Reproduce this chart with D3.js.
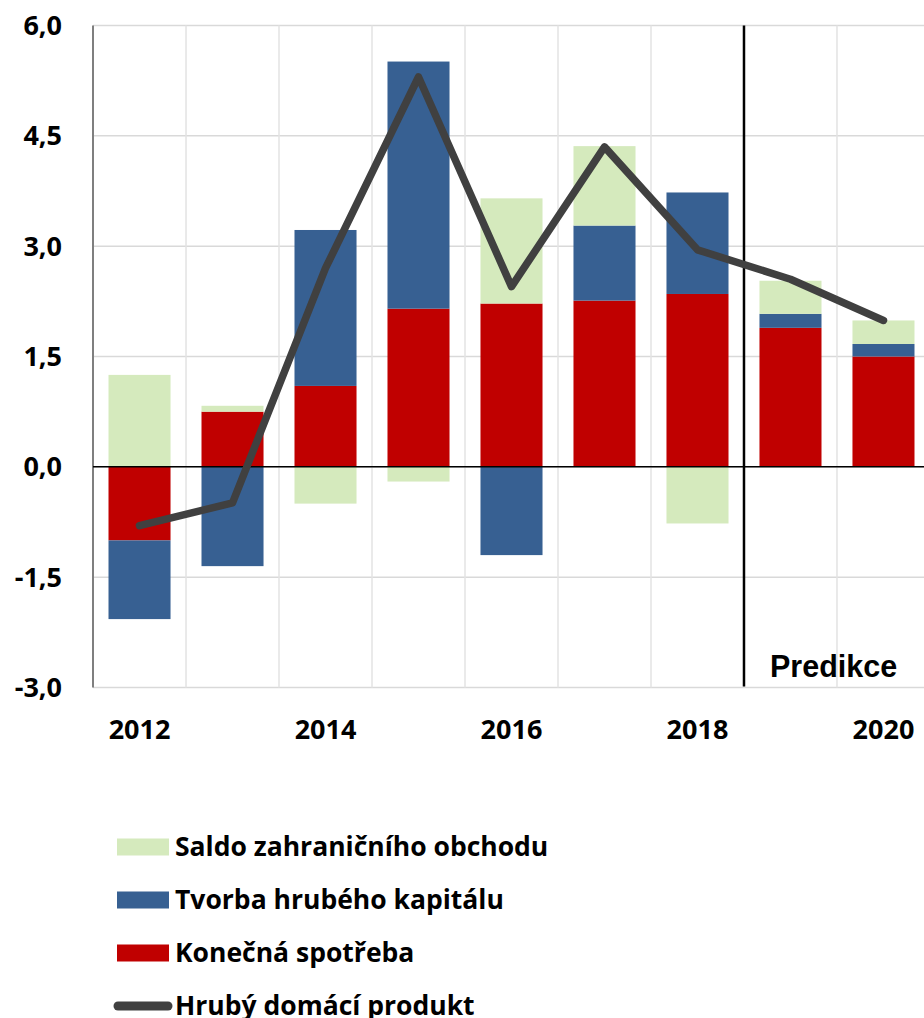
<!DOCTYPE html>
<html>
<head>
<meta charset="utf-8">
<script src="https://cdn.jsdelivr.net/npm/d3@7"></script>
<style>
  body { margin: 0; background: #fff; }
  svg { display: block; }
</style>
</head>
<body>
<svg></svg>
<script>
// roky a slozky rustu HDP (p.b.)
var years = ["2012","2013","2014","2015","2016","2017","2018","2019","2020"];
var spotreba = [-1.0, 0.75, 1.1, 2.15, 2.22, 2.26, 2.35, 1.89, 1.5];
var kapital = [-1.07, -1.35, 2.12, 3.36, -1.2, 1.02, 1.38, 0.19, 0.17];
var saldo = [1.25, 0.08, -0.5, -0.2, 1.43, 1.08, -0.77, 0.45, 0.32];
var hdp = [-0.8, -0.49, 2.7, 5.3, 2.45, 4.35, 2.95, 2.55, 1.99];
var yTicks = [-3, -1.5, 0, 1.5, 3, 4.5, 6];
var xLabels = ["2012","2014","2016","2018","2020"];

var seriesNames = ["Saldo zahraničního obchodu","Tvorba hrubého kapitálu","Konečná spotřeba","Hrubý domácí produkt"];
var colors = { spotreba: "#c00000", kapital: "#376092", saldo: "#d5eabd", hdp: "#404040" };

var scren = { width: 924, height: 1018 };
var svg = d3.select("svg")
            .attr("width", scren.width)
            .attr("height", scren.height);

var margins = { top: 25.5, left: 93, bottom: 687.5 };

var xScale = d3.scaleBand()
               .domain(years)
               .range([margins.left, margins.left + 93 * years.length])
               .paddingInner(0.333)
               .paddingOuter(0.1667);
var yScale = d3.scaleLinear()
               .domain([-3, 6])
               .range([margins.bottom, margins.top]);

var loc = d3.formatLocale({ decimal: ",", thousands: " ", grouping: [3], currency: ["", ""], minus: "-" });
var fmt = loc.format(".1f");

var tickFont = "'Open Sans', 'DejaVu Sans', sans-serif";

// mrizka
svg.append("g").selectAll("line.h")
   .data(yTicks)
   .enter().append("line")
   .attr("x1", margins.left).attr("x2", scren.width)
   .attr("y1", function(d){ return yScale(d); })
   .attr("y2", function(d){ return yScale(d); })
   .attr("stroke", "#d9d9d9").attr("stroke-width", 1.5);

svg.append("g").selectAll("line.v")
   .data(years.slice(1))
   .enter().append("line")
   .attr("x1", function(d){ return xScale(d) - xScale.step() * xScale.paddingInner() / 2; })
   .attr("x2", function(d){ return xScale(d) - xScale.step() * xScale.paddingInner() / 2; })
   .attr("y1", margins.top).attr("y2", margins.bottom)
   .attr("stroke", "#e3e3e3").attr("stroke-width", 1.5);

// sloupce
var table = years.map(function(y, i){
  return { year: y, spotreba: spotreba[i], kapital: kapital[i], saldo: saldo[i] };
});
var stack = d3.stack()
              .keys(["spotreba","kapital","saldo"])
              .offset(d3.stackOffsetDiverging);
var layers = stack(table);

svg.append("g").selectAll("g")
   .data(layers)
   .enter().append("g")
   .attr("fill", function(d){ return colors[d.key]; })
   .selectAll("rect")
   .data(function(d){ return d; })
   .enter().append("rect")
   .attr("x", function(d){ return xScale(d.data.year); })
   .attr("width", xScale.bandwidth())
   .attr("y", function(d){ return yScale(Math.max(d[0], d[1])); })
   .attr("height", function(d){ return Math.abs(yScale(d[0]) - yScale(d[1])); });

// osa y
svg.append("line")
   .attr("x1", margins.left).attr("x2", margins.left)
   .attr("y1", margins.top).attr("y2", margins.bottom)
   .attr("stroke", "#7f7f7f").attr("stroke-width", 2);

// nulova linie
svg.append("line")
   .attr("x1", margins.left).attr("x2", scren.width)
   .attr("y1", yScale(0)).attr("y2", yScale(0))
   .attr("stroke", "#000").attr("stroke-width", 1.5);

// predikce
var predX = xScale("2019") - xScale.step() * xScale.paddingInner() / 2;
svg.append("line")
   .attr("x1", predX).attr("x2", predX)
   .attr("y1", margins.top).attr("y2", margins.bottom - 1)
   .attr("stroke", "#000").attr("stroke-width", 2.5);
svg.append("text")
   .attr("x", 770).attr("y", 676.5)
   .attr("font-family", "'Liberation Sans', Arial, sans-serif")
   .attr("font-weight", "bold").attr("font-size", 30.5)
   .attr("fill", "#000")
   .text("Predikce");

// HDP
var line = d3.line()
             .x(function(d, i){ return xScale(years[i]) + xScale.bandwidth() / 2; })
             .y(function(d){ return yScale(d); });
svg.append("path")
   .datum(hdp)
   .attr("d", line)
   .attr("fill", "none")
   .attr("stroke", colors.hdp)
   .attr("stroke-width", 7.5)
   .attr("stroke-linecap", "round")
   .attr("stroke-linejoin", "round");

// popisky os
svg.append("g").selectAll("text")
   .data(yTicks)
   .enter().append("text")
   .attr("x", 62)
   .attr("y", function(d){ return yScale(d) + 9.5; })
   .attr("text-anchor", "end")
   .attr("font-family", tickFont).attr("font-weight", "bold").attr("font-size", 27)
   .attr("fill", "#000")
   .text(function(d){ return fmt(d); });

svg.append("g").selectAll("text")
   .data(xLabels)
   .enter().append("text")
   .attr("x", function(d){ return xScale(d) + xScale.bandwidth() / 2; })
   .attr("y", 739)
   .attr("text-anchor", "middle")
   .attr("font-family", tickFont).attr("font-weight", "bold").attr("font-size", 27)
   .attr("fill", "#000")
   .text(function(d){ return d; });

// legenda
var legendKeys = ["saldo","kapital","spotreba","hdp"];
var legend = svg.append("g").selectAll("g")
   .data(legendKeys)
   .enter().append("g")
   .attr("transform", function(d, i){ return "translate(0," + (847 + i * 53) + ")"; });

legend.filter(function(d){ return d != "hdp"; })
   .append("rect")
   .attr("x", 117).attr("y", -8.5)
   .attr("width", 52).attr("height", 17)
   .attr("fill", function(d){ return colors[d]; });

legend.filter(function(d){ return d == "hdp"; })
   .append("line")
   .attr("x1", 118).attr("x2", 168)
   .attr("y1", 0).attr("y2", 0)
   .attr("stroke", colors.hdp).attr("stroke-width", 9)
   .attr("stroke-linecap", "round");

legend.append("text")
   .attr("x", 175).attr("y", 9)
   .attr("font-family", tickFont).attr("font-weight", "bold").attr("font-size", 26.5)
   .attr("fill", "#000")
   .text(function(d, i){ return seriesNames[i]; });
</script>
</body>
</html>
